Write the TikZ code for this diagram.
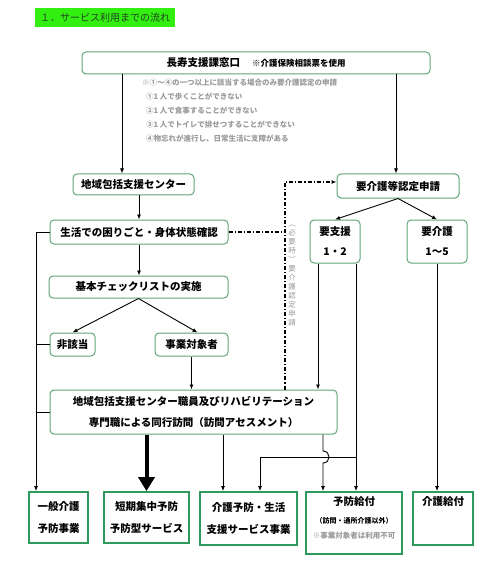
\documentclass[tikz,border=0pt]{standalone}
\usepackage{fontspec}
\setmainfont{Noto Sans CJK JP}
\usetikzlibrary{arrows.meta,calc}
\definecolor{boxgreen}{HTML}{5FA578}
\definecolor{boxgreen2}{HTML}{2E9A5E}
\definecolor{titlegreen}{HTML}{33EE11}
\definecolor{titletext}{HTML}{224422}
\definecolor{notegray}{HTML}{9A9A9A}
\begin{document}
\begin{tikzpicture}[x=1pt,y=-1pt,
  rbox/.style={draw=boxgreen,line width=1pt,rounded corners=4pt,inner sep=0pt,align=center,font=\fontsize{10.5}{20}\selectfont\bfseries},
  sbox/.style={draw=boxgreen2,line width=1.8pt,inner sep=0pt,align=center,font=\fontsize{10.5}{22}\selectfont\bfseries},
  arr/.style={line width=0.9pt,-{Latex[length=5pt,width=4pt]}},
  ln/.style={line width=0.9pt},
  bigarr/.style={line width=4pt,-{Triangle[length=14pt,width=16pt]}},
  dd/.style={line width=1.2pt,dash pattern=on 4pt off 2pt on 1.2pt off 2pt},
  note/.style={text=notegray,inner sep=0pt,align=left,font=\fontsize{7.5}{14}\selectfont\bfseries}]
\useasboundingbox (0,0) rectangle (500,569);

% title
\node[fill=titlegreen,minimum width=140pt,minimum height=19pt,inner sep=0pt,
      font=\fontsize{10}{12}\selectfont,text=titletext] (title) at (105,17.5) {１．サービス利用までの流れ};

% boxes
\node[rbox,minimum width=348pt,minimum height=22pt] (mado) at (256,63)
  {長寿支援課窓口\hspace{12pt}{\fontsize{8.5}{10}\selectfont ※介護保険相談票を使用}};
\node[note,anchor=north west] (notes) at (142,78.5)
  {※①～④の一つ以上に該当する場合のみ要介護認定の申請\\
   \hspace*{4pt}①1 人で歩くことができない\\
   \hspace*{4pt}②1 人で食事することができない\\
   \hspace*{4pt}③1 人でトイレで排せつすることができない\\
   \hspace*{4pt}④物忘れが進行し、日常生活に支障がある};

\node[rbox,minimum width=121pt,minimum height=21pt] (center) at (133.5,184.5) {地域包括支援センター};
\node[rbox,minimum width=178pt,minimum height=24pt] (seikatsu) at (139,232) {生活での困りごと・身体状態確認};
\node[rbox,minimum width=179pt,minimum height=22pt] (kihon) at (138.5,287) {基本チェックリストの実施};
\node[rbox,minimum width=45pt,minimum height=23pt] (higaitou) at (72.5,344.5) {非該当};
\node[rbox,minimum width=73pt,minimum height=23pt] (jigyou) at (191.5,344.5) {事業対象者};
\node[rbox,minimum width=287pt,minimum height=44pt,font=\fontsize{10.5}{21}\selectfont\bfseries] (houmon) at (193.5,412)
  {地域包括支援センター職員及びリハビリテーション\\専門職による同行訪問（訪問アセスメント）};

\node[rbox,minimum width=122pt,minimum height=24pt] (shinsei) at (398,186) {要介護等認定申請};
\node[rbox,minimum width=50pt,minimum height=43pt] (yoshien) at (335,241.5) {要支援\\1・2};
\node[rbox,minimum width=60pt,minimum height=43pt] (yokaigo) at (437,241.5) {要介護\\1～5};

\node[text=notegray,inner sep=0pt,align=center,font=\fontsize{7.5}{9}\selectfont] (vtext) at (292,276)
  {︵\\必\\要\\時\\︶\\要\\介\\護\\認\\定\\申\\請};

\node[sbox,minimum width=59pt,minimum height=51pt] (ippan) at (58.5,517.5) {一般介護\\予防事業};
\node[sbox,minimum width=85pt,minimum height=51pt] (tanki) at (146.5,517.5) {短期集中予防\\予防型サービス};
\node[sbox,minimum width=97pt,minimum height=53pt] (kaigoyobo) at (248.5,518.5) {介護予防・生活\\支援サービス事業};
\node[sbox,minimum width=96pt,minimum height=62pt,
  label={[anchor=north,yshift=-5pt,inner sep=0pt,align=center,font=\fontsize{10.5}{12}\selectfont\bfseries]north:予防給付\\[6pt]{\fontsize{7}{9}\selectfont （訪問・通所介護以外）}\\[3pt]{\fontsize{7.5}{9}\selectfont\color{notegray}※事業対象者は利用不可}}] (yobokyufu) at (354,523) {};
\node[sbox,minimum width=60pt,minimum height=53pt,
  label={[anchor=north,yshift=-5pt,inner sep=0pt,font=\fontsize{10.5}{12}\selectfont\bfseries]north:介護給付}] (kaigokyufu) at (443,518.5) {};

% helper coordinates
\coordinate (xA) at (122,0);
\coordinate (xB) at (396,0);
\coordinate (xL) at (36,0);
\coordinate (xD) at (285,0);
\coordinate (xK) at (223,0);
\coordinate (xH) at (323,0);
\coordinate (xS1) at (318,0);
\coordinate (xS2) at (356,0);
\coordinate (xY) at (260,0);
\coordinate (yH) at (0,457);
\coordinate (hopA) at (323,451);
\coordinate (hopB) at (323,463);
\coordinate (dtop) at (0,182);

% connectors
\draw[arr] (mado.south -| xA) -- (center.north -| xA);
\draw[arr] (mado.south -| xB) -- (shinsei.north -| xB);
\draw[arr] (center.south -| seikatsu.north) -- (seikatsu.north);
\draw[arr] (seikatsu.south) -- (seikatsu.south |- kihon.north);
\draw[arr] (kihon.south) -- (higaitou.north);
\draw[arr] (kihon.south) -- ([xshift=6pt]jigyou.north);
\draw[arr] (jigyou.south) -- (jigyou.south |- houmon.north);
\draw[arr] (seikatsu.west) -| (xL |- ippan.north);
\draw[ln] (higaitou.west) -- (higaitou.west -| xL);
\draw[ln] (houmon.west) -- (houmon.west -| xL);
\draw[bigarr] (houmon.south -| tanki.north) -- (tanki.north);
\draw[arr] (houmon.south -| xK) -- (kaigoyobo.north -| xK);
\draw[arr] (houmon.south -| xH) -- (hopA) .. controls +(8,0) and +(8,0) .. (hopB) -- (yobokyufu.north -| xH);
\draw[arr] (yoshien.south -| xS1) -- (houmon.north -| xS1);
\draw[arr] (yoshien.south -| xS2) -- (yobokyufu.north -| xS2);
\draw[arr] (xS2 |- yH) -| (kaigoyobo.north -| xY);
\draw[arr] (yokaigo.south) -- (yokaigo.south |- kaigokyufu.north);
\draw[arr] (shinsei.south) -- (yoshien.north);
\draw[arr] (shinsei.south) -- (yokaigo.north);
\draw[dd] (seikatsu.east) -- (seikatsu.east -| xD);
\draw[dd,-{Latex[length=5pt,width=4pt]}] (xD |- houmon.north) -- (xD |- dtop) -- (shinsei.west |- dtop);
\end{tikzpicture}
\end{document}
